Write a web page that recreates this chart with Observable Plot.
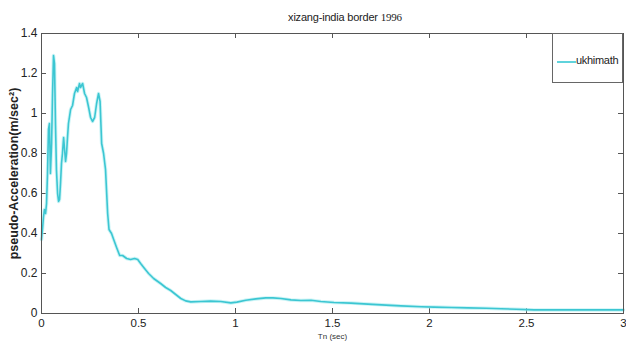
<!DOCTYPE html>
<html>
<head>
<meta charset="utf-8">
<script src="https://cdn.jsdelivr.net/npm/d3@7"></script>
<script src="https://cdn.jsdelivr.net/npm/@observablehq/plot@0.6"></script>
<style>
  html, body { margin: 0; padding: 0; background: #fff; }
  #wrap { position: relative; width: 626px; height: 343px; overflow: hidden; }
  #title { position: absolute; top: 11px; left: 0; width: 690px; text-align: center;
           font-family: "Liberation Sans", Arial, sans-serif; font-size: 11px; color: #222; letter-spacing: -0.2px; }
  #title .yr { font-family: "Liberation Serif", "DejaVu Serif", serif; font-size: 11px; }
  #legend { position: absolute; left: 552px; top: 33px; width: 71px; height: 50px; box-sizing: border-box;
            border: 1px solid #666; background: #fff; }
  #legend .sw { position: absolute; left: 4px; top: 27px; width: 19px; height: 0; border-top: 2px solid #5fd3dc; }
  #legend .lb { position: absolute; left: 23px; top: 20px; font-family: "Liberation Sans", Arial, sans-serif;
                font-size: 11px; color: #222; letter-spacing: -0.3px; }
</style>
</head>
<body>
<div id="wrap"></div>
<script>
const chartTitle = "xizang-india border";
const chartYear = "1996";
const seriesName = "ukhimath";
const xLabel = "Tn (sec)";
const yLabel = "pseudo-Acceleration(m/sec²)";
const xTicks = [0, 0.5, 1, 1.5, 2, 2.5, 3];
const yTicks = [0, 0.2, 0.4, 0.6, 0.8, 1, 1.2, 1.4];

const period = [0.000,0.005,0.010,0.015,0.021,0.026,0.031,0.036,0.041,0.046,0.052,0.057,0.062,0.067,0.072,0.077,0.083,0.088,0.093,0.098,0.103,0.108,0.114,0.119,0.124,0.129,0.134,0.139,0.150,0.160,0.170,0.181,0.186,0.196,0.201,0.212,0.222,0.232,0.243,0.253,0.263,0.274,0.284,0.294,0.302,0.310,0.320,0.330,0.341,0.348,0.361,0.372,0.387,0.403,0.418,0.439,0.459,0.480,0.496,0.511,0.527,0.552,0.578,0.614,0.640,0.666,0.692,0.718,0.743,0.769,0.821,0.872,0.924,0.976,1.007,1.053,1.105,1.156,1.193,1.234,1.286,1.337,1.389,1.440,1.508,1.595,1.683,1.776,1.853,1.957,2.024,2.112,2.199,2.292,2.370,2.447,2.540,2.679,2.834,3.000];
const accel = [0.37,0.42,0.48,0.52,0.50,0.55,0.70,0.92,0.95,0.70,0.85,1.10,1.29,1.25,0.95,0.72,0.60,0.56,0.57,0.65,0.75,0.80,0.88,0.82,0.76,0.80,0.88,0.95,1.02,1.04,1.10,1.13,1.11,1.15,1.13,1.15,1.10,1.08,1.03,0.98,0.96,0.98,1.05,1.10,1.06,0.85,0.80,0.72,0.50,0.42,0.40,0.37,0.33,0.29,0.29,0.275,0.27,0.275,0.27,0.25,0.23,0.20,0.175,0.15,0.13,0.115,0.095,0.075,0.063,0.058,0.060,0.062,0.060,0.053,0.057,0.066,0.073,0.078,0.078,0.075,0.068,0.065,0.066,0.060,0.055,0.052,0.047,0.042,0.038,0.034,0.032,0.030,0.028,0.026,0.024,0.021,0.018,0.018,0.018,0.018];

const data = period.map((t, i) => ({t, a: accel[i]}));
const W = 626, H = 343, mL = 41, mR = 3, mT = 33, mB = 30;
const innerW = W - mL - mR, innerH = H - mT - mB, tk = 5;
const fontMain = "'Liberation Sans', Arial, sans-serif";

const chart = Plot.plot({
  width: W, height: H,
  marginLeft: mL, marginRight: mR, marginTop: mT, marginBottom: mB,
  style: {background: "#fff", color: "#222", fontFamily: fontMain},
  x: {domain: [0, 3], label: null},
  y: {domain: [0, 1.4], label: null},
  marks: [
    Plot.axisX({ticks: xTicks, tickSize: 0, tickPadding: 5, fontSize: 11.5, tickFormat: d => String(d), label: null}),
    Plot.axisY({ticks: yTicks, tickSize: 0, tickPadding: 4, fontSize: 12, tickFormat: d => String(d), label: null}),
    Plot.tickX(xTicks, {x: d => d, insetTop: innerH - tk, stroke: "#555"}),
    Plot.tickX(xTicks, {x: d => d, insetBottom: innerH - tk, stroke: "#555"}),
    Plot.tickY(yTicks, {y: d => d, insetRight: innerW - tk, stroke: "#555"}),
    Plot.tickY(yTicks, {y: d => d, insetLeft: innerW - tk, stroke: "#555"}),
    Plot.line(data, {x: "t", y: "a", stroke: "#a8ecf0", strokeWidth: 3.5, strokeOpacity: 0.6}),
    Plot.line(data, {x: "t", y: "a", stroke: "#3cc6d2", strokeWidth: 1.6}),
    Plot.frame({stroke: "#555"}),
    Plot.text([yLabel], {frameAnchor: "left", dx: -28, rotate: -90, textAnchor: "middle", fontSize: 12.5, fontWeight: "bold", fill: "#222"}),
    Plot.text([xLabel], {frameAnchor: "bottom", dy: 25, fontSize: 8, fill: "#333"})
  ]
});

const wrap = document.getElementById("wrap");
wrap.appendChild(chart);
const title = document.createElement("div");
title.id = "title";
title.innerHTML = chartTitle + ' <span class="yr">' + chartYear + '</span>';
wrap.appendChild(title);
const legend = document.createElement("div");
legend.id = "legend";
legend.innerHTML = '<div class="sw"></div><div class="lb">' + seriesName + '</div>';
wrap.appendChild(legend);
</script>
</body>
</html>
